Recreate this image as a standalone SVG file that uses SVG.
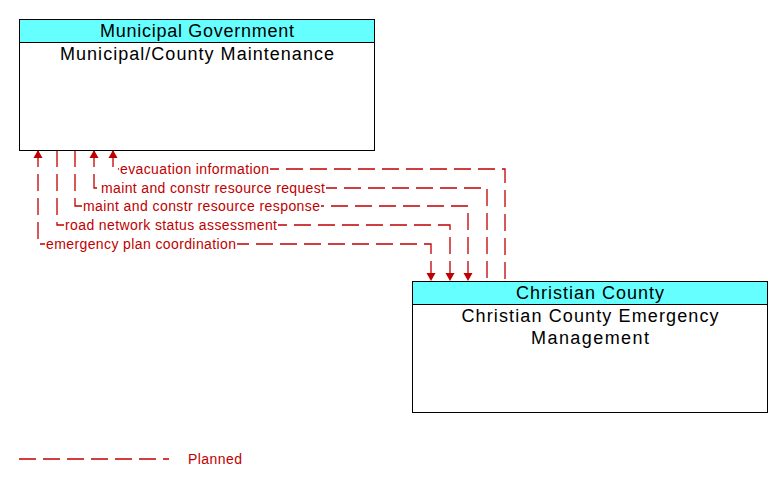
<svg xmlns="http://www.w3.org/2000/svg" width="783" height="487" viewBox="0 0 783 487">
<style>
.box{fill:#fff;stroke:#000;stroke-width:1}
.hdr{fill:#6ff;stroke:#000;stroke-width:1}
.t{font-family:"Liberation Sans",Arial,sans-serif;font-size:18px;fill:#000;text-anchor:middle}
.c{fill:none;stroke:#c00000;stroke-width:1.3;stroke-dasharray:17,7}
.bg{fill:#fff}
.l{font-family:"Liberation Sans",Arial,sans-serif;font-size:14px;fill:#c00000}
</style>
<defs>
<marker id="ah" markerUnits="userSpaceOnUse" markerWidth="10" markerHeight="10" viewBox="-9 -5 10 10" refX="0" refY="0" orient="auto-start-reverse">
<path d="M-8,-4.5 L0,0 L-8,4.5 z" fill="#c00000"/>
</marker>
</defs>
<g id="connectors">
<path class="c" d="M113,150 V169 H505 V281" marker-start="url(#ah)"/>
<path class="c" d="M94,150 V188 H487 V281" marker-start="url(#ah)"/>
<path class="c" d="M75,150 V206 H468 V281" marker-end="url(#ah)"/>
<path class="c" d="M57,150 V225 H450 V281" marker-end="url(#ah)"/>
<path class="c" d="M38,150 V244 H431 V281" marker-start="url(#ah)" marker-end="url(#ah)"/>
<rect class="bg" x="119" y="162" width="151" height="14"/>
<rect class="bg" x="100" y="181" width="226" height="14"/>
<rect class="bg" x="82" y="199" width="239" height="14"/>
<rect class="bg" x="64" y="218" width="214" height="14"/>
<rect class="bg" x="45" y="237" width="192" height="14"/>
<text class="l" x="120" y="174" textLength="149">evacuation information</text>
<text class="l" x="101" y="193" textLength="224">maint and constr resource request</text>
<text class="l" x="83" y="211" textLength="237">maint and constr resource response</text>
<text class="l" x="65" y="230" textLength="212">road network status assessment</text>
<text class="l" x="46" y="249" textLength="190">emergency plan coordination</text>
</g>
<g id="municipal">
<rect class="box" x="19.5" y="19.5" width="355" height="131"/>
<rect class="hdr" x="19.5" y="19.5" width="355" height="23"/>
<text class="t" x="197" y="37" textLength="194">Municipal Government</text>
<text class="t" x="197" y="60" textLength="274">Municipal/County Maintenance</text>
</g>
<g id="christian">
<rect class="box" x="412.5" y="281.5" width="355" height="131"/>
<rect class="hdr" x="412.5" y="281.5" width="355" height="23"/>
<text class="t" x="590" y="299" textLength="148">Christian County</text>
<text class="t" x="590" y="322" textLength="257">Christian County Emergency</text>
<text class="t" x="590" y="344" textLength="118">Management</text>
</g>
<g id="legend">
<path class="c" d="M19,459 H169"/>
<text class="l" x="188" y="464" textLength="54">Planned</text>
</g>
</svg>
